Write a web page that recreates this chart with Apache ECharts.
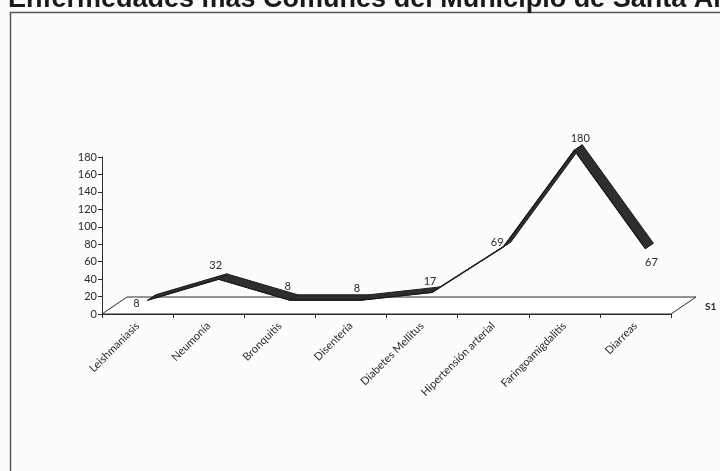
<!DOCTYPE html>
<html>
<head>
<meta charset="utf-8">
<script src="https://cdn.jsdelivr.net/npm/echarts@6/dist/echarts.min.js"></script>
<style>
html,body{margin:0;padding:0;background:#fcfcfc;}
#main{width:720px;height:471px;}
</style>
</head>
<body>
<div id="main"></div>
<script>
// ---- data ----
const titleText = 'Enfermedades más Comunes del Municipio de Santa Ana';
const categories = ['Leishmaniasis', 'Neumonía', 'Bronquitis', 'Disentería', 'Diabetes Mellitus', 'Hipertensión arterial', 'Faringoamigdalitis', 'Diarreas'];
const values = [8, 32, 8, 8, 17, 69, 180, 67];
const seriesName = 'S1';
const yMin = 0, yMax = 180, yStep = 20;

// ---- style (pixel offsets of the value labels, 3D depth) ----
const labelOffsets = [[-1, -4], [7, -21], [8, -21], [6, -19], [8, -18], [4, -11], [16, -19], [16, 7]];
const depth = [25, -17];
const ribbonFront = 0.40, ribbonBack = 0.72;
const FONT = 'Lato, "DejaVu Sans", sans-serif';
const INK = '#2a2a2a';

const chart = echarts.init(document.getElementById('main'));

function floorItem(params, api) {
  const cs = params.coordSys;
  const x0 = cs.x, x1 = cs.x + cs.width, yb = cs.y + cs.height;
  return {
    type: 'group',
    children: [
      { type: 'polygon', shape: { points: [[x0, yb], [x1, yb], [x1 + depth[0], yb + depth[1]], [x0 + depth[0], yb + depth[1]]] },
        style: { fill: '#ffffff', stroke: INK, lineWidth: 1 } },
      { type: 'text', x: x1 + depth[0] + 9, y: yb + depth[1] + 10,
        style: { text: seriesName, fill: INK, font: 'bold 10px ' + FONT, textAlign: 'left', textVerticalAlign: 'middle' } }
    ]
  };
}

function ribbonItem(params, api) {
  const children = [];
  const pts = values.map((v, i) => api.coord([i, v]));
  const front = pts.map(p => [p[0] + depth[0] * ribbonFront, p[1] + depth[1] * ribbonFront]);
  const back = pts.map(p => [p[0] + depth[0] * ribbonBack, p[1] + depth[1] * ribbonBack]);
  for (let i = 0; i < pts.length - 1; i++) {
    children.push({ type: 'polygon', shape: { points: [front[i], front[i + 1], back[i + 1], back[i]] },
      style: { fill: '#2e2e2e', stroke: '#1e1e1e', lineWidth: 1 } });
  }
  children.push({ type: 'polyline', shape: { points: front }, style: { fill: null, stroke: '#1a1a1a', lineWidth: 1.2 } });
  values.forEach((v, i) => {
    const o = labelOffsets[i];
    children.push({ type: 'text', x: pts[i][0] + o[0], y: pts[i][1] + o[1],
      style: { text: String(v), fill: INK, font: '11px ' + FONT, textAlign: 'center', textVerticalAlign: 'middle' } });
  });
  return { type: 'group', children: children };
}

const option = {
  backgroundColor: '#fcfcfc',
  animation: false,
  grid: { left: 102, right: 49, top: 157, bottom: 157, containLabel: false, outerBoundsMode: 'none' },
  graphic: [
    { type: 'rect', shape: { x: 10.5, y: 12.5, width: 730, height: 480 },
      style: { fill: null, stroke: '#555', lineWidth: 1.5 }, z: 0 },
    { type: 'text', x: 8, y: 13,
      style: { text: titleText, fill: '#1a1a1a', font: 'bold 27px "Liberation Sans", Arial, sans-serif',
               textAlign: 'left', textVerticalAlign: 'bottom' }, z: 1 }
  ],
  xAxis: {
    type: 'category', data: categories, boundaryGap: true,
    axisLine: { show: true, lineStyle: { color: INK, width: 1 } },
    axisTick: { show: true, length: 4, lineStyle: { color: INK } },
    axisLabel: { rotate: 45, margin: 10, fontSize: 11, fontFamily: FONT, color: INK, interval: 0 },
    splitLine: { show: false }
  },
  yAxis: {
    type: 'value', min: yMin, max: yMax, interval: yStep,
    axisLine: { show: true, lineStyle: { color: INK, width: 1 } },
    axisTick: { show: true, length: 4, lineStyle: { color: INK } },
    axisLabel: { margin: 5, fontSize: 11, fontFamily: FONT, color: INK },
    splitLine: { show: false }
  },
  series: [
    { type: 'custom', name: 'floor', data: [0], renderItem: floorItem, z: 1, silent: true },
    { type: 'custom', name: seriesName, data: [0], renderItem: ribbonItem, z: 3, silent: true }
  ]
};
chart.setOption(option);
</script>
</body>
</html>
